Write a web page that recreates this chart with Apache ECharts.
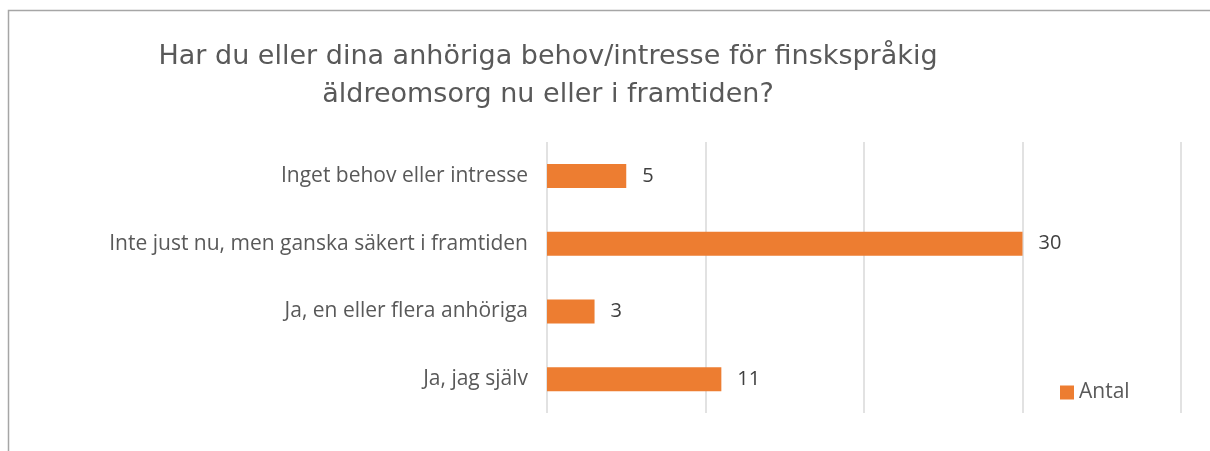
<!DOCTYPE html>
<html><head><meta charset="utf-8">
<script src="https://cdn.jsdelivr.net/npm/echarts@6/dist/echarts.min.js"></script>
<style>html,body{margin:0;padding:0;background:#fff}#c{width:1210px;height:451px}</style>
</head><body><div id="c"></div>
<script>
const categories = ["Inget behov eller intresse", "Inte just nu, men ganska säkert i framtiden", "Ja, en eller flera anhöriga", "Ja, jag själv"];
const values = [5, 30, 3, 11];
const seriesName = "Antal";
const titleText = "Har du eller dina anhöriga behov/intresse för finskspråkig\näldreomsorg nu eller i framtiden?";

const chart = echarts.init(document.getElementById('c'));
chart.setOption({
  animation: false,
  backgroundColor: '#fff',
  graphic: [{
    type: 'rect', shape: {x: 8.5, y: 10.5, width: 1250, height: 500},
    style: {fill: 'none', stroke: '#A6A6A6', lineWidth: 1.5}, silent: true
  }],
  title: {
    text: titleText, left: 543, top: 33, textAlign: 'center',
    textStyle: {fontFamily: 'DejaVu Sans', fontWeight: 'normal', fontSize: 27, color: '#595959', lineHeight: 38}
  },
  legend: {
    data: [seriesName], left: 1060, top: 382, padding: 0, icon: 'rect', itemWidth: 14, itemHeight: 14, itemGap: 6,
    textStyle: {fontFamily: 'Open Sans', fontSize: 21, color: '#595959'}
  },
  grid: {left: 547, right: 29, top: 142, bottom: 38, containLabel: false},
  xAxis: {
    type: 'value', min: 0, max: 40, interval: 10,
    axisLabel: {show: false}, axisLine: {show: false}, axisTick: {show: false},
    splitLine: {lineStyle: {color: '#D9D9D9', width: 1.5}}
  },
  yAxis: {
    type: 'category', data: categories, inverse: true,
    axisLine: {show: false}, axisTick: {show: false},
    axisLabel: {fontFamily: 'Open Sans', fontSize: 21, color: '#595959', margin: 19}
  },
  series: [{
    name: seriesName, type: 'bar', data: values, barWidth: 24,
    itemStyle: {color: '#ED7D31'},
    label: {show: true, position: 'right', distance: 16, fontFamily: 'Open Sans', fontSize: 20, color: '#404040'}
  }]
});
</script></body></html>
